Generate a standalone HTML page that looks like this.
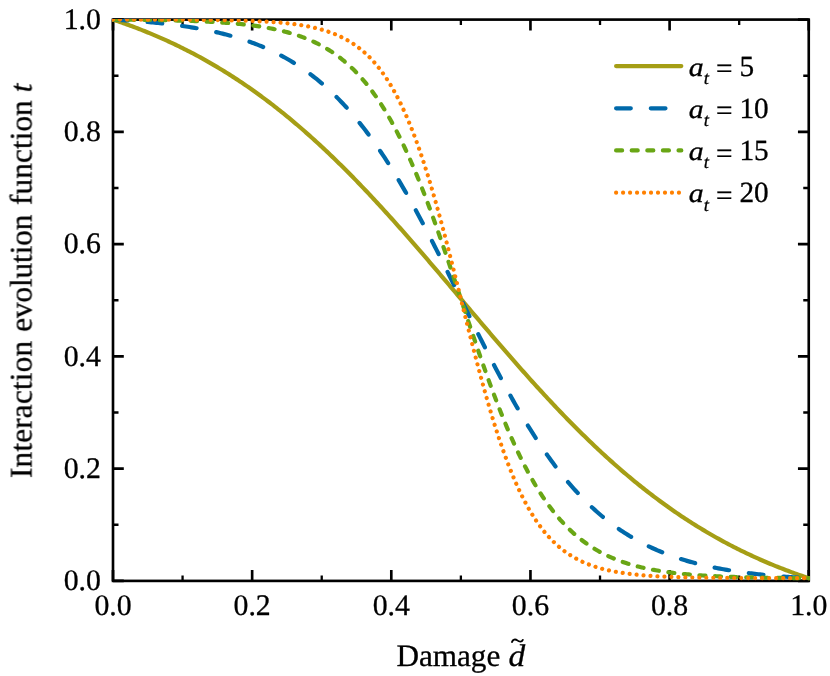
<!DOCTYPE html>
<html><head><meta charset="utf-8"><title>Interaction evolution function</title>
<style>html,body{margin:0;padding:0;background:#fff;}svg{display:block;text-rendering:geometricPrecision;}text{font-family:"Liberation Serif",serif;fill:#000;stroke:#000;stroke-width:0.3px;}</style>
</head><body>
<svg width="830" height="676" viewBox="0 0 830 676">
<rect x="0" y="0" width="830" height="676" fill="#fff"/>
<defs><clipPath id="ax"><rect x="112" y="19" width="698" height="563"/></clipPath></defs>
<g stroke="#000" fill="none" stroke-linecap="butt">
<path stroke-width="2.64" d="M113.00,580.90 v-10.80 M113.00,19.60 v10.80 M113.00,580.90 h10.80 M808.75,580.90 h-10.80"/>
<path stroke-width="2.30" d="M182.57,580.90 v-5.50 M182.57,19.60 v5.50 M113.00,524.77 h5.50 M808.75,524.77 h-5.50"/>
<path stroke-width="2.64" d="M252.15,580.90 v-10.80 M252.15,19.60 v10.80 M113.00,468.64 h10.80 M808.75,468.64 h-10.80"/>
<path stroke-width="2.30" d="M321.73,580.90 v-5.50 M321.73,19.60 v5.50 M113.00,412.51 h5.50 M808.75,412.51 h-5.50"/>
<path stroke-width="2.64" d="M391.30,580.90 v-10.80 M391.30,19.60 v10.80 M113.00,356.38 h10.80 M808.75,356.38 h-10.80"/>
<path stroke-width="2.30" d="M460.88,580.90 v-5.50 M460.88,19.60 v5.50 M113.00,300.25 h5.50 M808.75,300.25 h-5.50"/>
<path stroke-width="2.64" d="M530.45,580.90 v-10.80 M530.45,19.60 v10.80 M113.00,244.12 h10.80 M808.75,244.12 h-10.80"/>
<path stroke-width="2.30" d="M600.02,580.90 v-5.50 M600.02,19.60 v5.50 M113.00,187.99 h5.50 M808.75,187.99 h-5.50"/>
<path stroke-width="2.64" d="M669.60,580.90 v-10.80 M669.60,19.60 v10.80 M113.00,131.86 h10.80 M808.75,131.86 h-10.80"/>
<path stroke-width="2.30" d="M739.18,580.90 v-5.50 M739.18,19.60 v5.50 M113.00,75.73 h5.50 M808.75,75.73 h-5.50"/>
<path stroke-width="2.64" d="M808.75,580.90 v-10.80 M808.75,19.60 v10.80 M113.00,19.60 h10.80 M808.75,19.60 h-10.80"/>
</g>
<rect x="113.00" y="19.60" width="695.75" height="561.30" fill="none" stroke="#000" stroke-width="2.64" stroke-linejoin="miter"/>
<g fill="none" stroke-linecap="round" stroke-linejoin="round" stroke-width="4.20" clip-path="url(#ax)">
<path stroke="#A59E15" d="M113.00,19.60 L114.74,20.18 L116.48,20.77 L118.22,21.36 L119.96,21.96 L121.70,22.56 L123.44,23.17 L125.18,23.79 L126.92,24.42 L128.65,25.05 L130.39,25.69 L132.13,26.33 L133.87,26.98 L135.61,27.64 L137.35,28.30 L139.09,28.97 L140.83,29.65 L142.57,30.34 L144.31,31.03 L146.05,31.73 L147.79,32.44 L149.53,33.15 L151.27,33.87 L153.01,34.60 L154.75,35.33 L156.48,36.08 L158.22,36.83 L159.96,37.58 L161.70,38.35 L163.44,39.12 L165.18,39.90 L166.92,40.69 L168.66,41.49 L170.40,42.29 L172.14,43.10 L173.88,43.92 L175.62,44.75 L177.36,45.59 L179.10,46.43 L180.84,47.28 L182.57,48.14 L184.31,49.01 L186.05,49.89 L187.79,50.77 L189.53,51.67 L191.27,52.57 L193.01,53.48 L194.75,54.40 L196.49,55.32 L198.23,56.26 L199.97,57.21 L201.71,58.16 L203.45,59.12 L205.19,60.09 L206.93,61.07 L208.67,62.06 L210.41,63.06 L212.14,64.06 L213.88,65.08 L215.62,66.10 L217.36,67.14 L219.10,68.18 L220.84,69.23 L222.58,70.29 L224.32,71.36 L226.06,72.44 L227.80,73.53 L229.54,74.63 L231.28,75.74 L233.02,76.86 L234.76,77.98 L236.50,79.12 L238.24,80.26 L239.97,81.42 L241.71,82.58 L243.45,83.76 L245.19,84.94 L246.93,86.14 L248.67,87.34 L250.41,88.55 L252.15,89.78 L253.89,91.01 L255.63,92.25 L257.37,93.50 L259.11,94.76 L260.85,96.04 L262.59,97.32 L264.33,98.61 L266.06,99.91 L267.80,101.22 L269.54,102.54 L271.28,103.87 L273.02,105.21 L274.76,106.57 L276.50,107.93 L278.24,109.30 L279.98,110.68 L281.72,112.07 L283.46,113.47 L285.20,114.88 L286.94,116.30 L288.68,117.73 L290.42,119.17 L292.16,120.62 L293.89,122.08 L295.63,123.55 L297.37,125.02 L299.11,126.51 L300.85,128.01 L302.59,129.52 L304.33,131.04 L306.07,132.57 L307.81,134.10 L309.55,135.65 L311.29,137.21 L313.03,138.77 L314.77,140.35 L316.51,141.93 L318.25,143.53 L319.99,145.13 L321.73,146.75 L323.46,148.37 L325.20,150.00 L326.94,151.64 L328.68,153.30 L330.42,154.96 L332.16,156.62 L333.90,158.30 L335.64,159.99 L337.38,161.69 L339.12,163.39 L340.86,165.10 L342.60,166.83 L344.34,168.56 L346.08,170.30 L347.82,172.05 L349.56,173.80 L351.29,175.57 L353.03,177.34 L354.77,179.12 L356.51,180.91 L358.25,182.71 L359.99,184.51 L361.73,186.33 L363.47,188.15 L365.21,189.98 L366.95,191.81 L368.69,193.66 L370.43,195.51 L372.17,197.37 L373.91,199.23 L375.65,201.11 L377.38,202.99 L379.12,204.87 L380.86,206.77 L382.60,208.67 L384.34,210.57 L386.08,212.49 L387.82,214.41 L389.56,216.33 L391.30,218.26 L393.04,220.20 L394.78,222.14 L396.52,224.09 L398.26,226.05 L400.00,228.01 L401.74,229.97 L403.48,231.94 L405.21,233.92 L406.95,235.90 L408.69,237.88 L410.43,239.87 L412.17,241.86 L413.91,243.86 L415.65,245.86 L417.39,247.87 L419.13,249.88 L420.87,251.90 L422.61,253.91 L424.35,255.93 L426.09,257.96 L427.83,259.99 L429.57,262.02 L431.31,264.05 L433.05,266.09 L434.78,268.13 L436.52,270.17 L438.26,272.21 L440.00,274.25 L441.74,276.30 L443.48,278.35 L445.22,280.40 L446.96,282.45 L448.70,284.51 L450.44,286.56 L452.18,288.62 L453.92,290.67 L455.66,292.73 L457.40,294.79 L459.14,296.85 L460.88,298.90 L462.61,300.96 L464.35,303.02 L466.09,305.08 L467.83,307.13 L469.57,309.19 L471.31,311.24 L473.05,313.30 L474.79,315.35 L476.53,317.40 L478.27,319.45 L480.01,321.50 L481.75,323.55 L483.49,325.60 L485.23,327.64 L486.97,329.68 L488.71,331.72 L490.44,333.76 L492.18,335.79 L493.92,337.82 L495.66,339.85 L497.40,341.87 L499.14,343.89 L500.88,345.91 L502.62,347.92 L504.36,349.93 L506.10,351.94 L507.84,353.94 L509.58,355.94 L511.32,357.94 L513.06,359.93 L514.80,361.91 L516.53,363.89 L518.27,365.87 L520.01,367.84 L521.75,369.80 L523.49,371.76 L525.23,373.71 L526.97,375.66 L528.71,377.61 L530.45,379.54 L532.19,381.48 L533.93,383.40 L535.67,385.32 L537.41,387.23 L539.15,389.14 L540.89,391.04 L542.63,392.93 L544.37,394.82 L546.10,396.70 L547.84,398.57 L549.58,400.44 L551.32,402.30 L553.06,404.15 L554.80,405.99 L556.54,407.83 L558.28,409.66 L560.02,411.48 L561.76,413.29 L563.50,415.10 L565.24,416.89 L566.98,418.68 L568.72,420.47 L570.46,422.24 L572.20,424.00 L573.93,425.76 L575.67,427.51 L577.41,429.25 L579.15,430.98 L580.89,432.70 L582.63,434.41 L584.37,436.12 L586.11,437.82 L587.85,439.50 L589.59,441.18 L591.33,442.85 L593.07,444.51 L594.81,446.16 L596.55,447.80 L598.29,449.43 L600.02,451.06 L601.76,452.67 L603.50,454.28 L605.24,455.87 L606.98,457.46 L608.72,459.03 L610.46,460.60 L612.20,462.16 L613.94,463.70 L615.68,465.24 L617.42,466.77 L619.16,468.29 L620.90,469.79 L622.64,471.29 L624.38,472.78 L626.12,474.26 L627.86,475.73 L629.59,477.19 L631.33,478.64 L633.07,480.08 L634.81,481.51 L636.55,482.93 L638.29,484.34 L640.03,485.74 L641.77,487.13 L643.51,488.51 L645.25,489.88 L646.99,491.24 L648.73,492.59 L650.47,493.93 L652.21,495.26 L653.95,496.58 L655.69,497.89 L657.42,499.20 L659.16,500.49 L660.90,501.77 L662.64,503.04 L664.38,504.30 L666.12,505.55 L667.86,506.80 L669.60,508.03 L671.34,509.25 L673.08,510.47 L674.82,511.67 L676.56,512.86 L678.30,514.05 L680.04,515.22 L681.78,516.39 L683.51,517.54 L685.25,518.69 L686.99,519.82 L688.73,520.95 L690.47,522.07 L692.21,523.17 L693.95,524.27 L695.69,525.36 L697.43,526.44 L699.17,527.51 L700.91,528.57 L702.65,529.63 L704.39,530.67 L706.13,531.70 L707.87,532.73 L709.61,533.74 L711.35,534.75 L713.08,535.75 L714.82,536.73 L716.56,537.71 L718.30,538.69 L720.04,539.65 L721.78,540.60 L723.52,541.55 L725.26,542.48 L727.00,543.41 L728.74,544.33 L730.48,545.24 L732.22,546.14 L733.96,547.03 L735.70,547.92 L737.44,548.79 L739.18,549.66 L740.91,550.52 L742.65,551.37 L744.39,552.22 L746.13,553.05 L747.87,553.88 L749.61,554.70 L751.35,555.51 L753.09,556.32 L754.83,557.11 L756.57,557.90 L758.31,558.68 L760.05,559.46 L761.79,560.22 L763.53,560.98 L765.27,561.73 L767.00,562.47 L768.74,563.21 L770.48,563.94 L772.22,564.66 L773.96,565.37 L775.70,566.08 L777.44,566.78 L779.18,567.47 L780.92,568.15 L782.66,568.83 L784.40,569.50 L786.14,570.17 L787.88,570.83 L789.62,571.48 L791.36,572.12 L793.10,572.76 L794.84,573.39 L796.57,574.01 L798.31,574.63 L800.05,575.24 L801.79,575.85 L803.53,576.45 L805.27,577.04 L807.01,577.63 L808.75,578.21"/>
<path stroke="#0069AA" stroke-dasharray="14.7 19.98" d="M113.00,19.60 L114.74,19.70 L116.48,19.79 L118.22,19.89 L119.96,20.00 L121.70,20.10 L123.44,20.21 L125.18,20.32 L126.92,20.43 L128.65,20.55 L130.39,20.67 L132.13,20.79 L133.87,20.91 L135.61,21.04 L137.35,21.17 L139.09,21.31 L140.83,21.45 L142.57,21.59 L144.31,21.73 L146.05,21.88 L147.79,22.03 L149.53,22.19 L151.27,22.35 L153.01,22.51 L154.75,22.68 L156.48,22.85 L158.22,23.03 L159.96,23.21 L161.70,23.39 L163.44,23.58 L165.18,23.77 L166.92,23.97 L168.66,24.18 L170.40,24.38 L172.14,24.60 L173.88,24.82 L175.62,25.04 L177.36,25.27 L179.10,25.51 L180.84,25.75 L182.57,25.99 L184.31,26.25 L186.05,26.51 L187.79,26.77 L189.53,27.04 L191.27,27.32 L193.01,27.61 L194.75,27.90 L196.49,28.20 L198.23,28.51 L199.97,28.82 L201.71,29.14 L203.45,29.47 L205.19,29.81 L206.93,30.15 L208.67,30.51 L210.41,30.87 L212.14,31.24 L213.88,31.62 L215.62,32.01 L217.36,32.41 L219.10,32.81 L220.84,33.23 L222.58,33.66 L224.32,34.10 L226.06,34.54 L227.80,35.00 L229.54,35.47 L231.28,35.95 L233.02,36.44 L234.76,36.94 L236.50,37.46 L238.24,37.99 L239.97,38.52 L241.71,39.08 L243.45,39.64 L245.19,40.22 L246.93,40.81 L248.67,41.41 L250.41,42.03 L252.15,42.66 L253.89,43.31 L255.63,43.97 L257.37,44.65 L259.11,45.34 L260.85,46.05 L262.59,46.77 L264.33,47.51 L266.06,48.27 L267.80,49.04 L269.54,49.83 L271.28,50.64 L273.02,51.47 L274.76,52.31 L276.50,53.17 L278.24,54.05 L279.98,54.96 L281.72,55.88 L283.46,56.82 L285.20,57.78 L286.94,58.76 L288.68,59.76 L290.42,60.79 L292.16,61.83 L293.89,62.90 L295.63,63.99 L297.37,65.11 L299.11,66.24 L300.85,67.40 L302.59,68.59 L304.33,69.80 L306.07,71.03 L307.81,72.29 L309.55,73.57 L311.29,74.88 L313.03,76.22 L314.77,77.58 L316.51,78.97 L318.25,80.39 L319.99,81.83 L321.73,83.30 L323.46,84.80 L325.20,86.33 L326.94,87.89 L328.68,89.48 L330.42,91.09 L332.16,92.74 L333.90,94.42 L335.64,96.12 L337.38,97.86 L339.12,99.63 L340.86,101.43 L342.60,103.27 L344.34,105.13 L346.08,107.03 L347.82,108.96 L349.56,110.92 L351.29,112.91 L353.03,114.94 L354.77,117.00 L356.51,119.10 L358.25,121.23 L359.99,123.39 L361.73,125.58 L363.47,127.81 L365.21,130.07 L366.95,132.37 L368.69,134.70 L370.43,137.07 L372.17,139.47 L373.91,141.90 L375.65,144.37 L377.38,146.87 L379.12,149.40 L380.86,151.97 L382.60,154.57 L384.34,157.21 L386.08,159.88 L387.82,162.58 L389.56,165.31 L391.30,168.08 L393.04,170.88 L394.78,173.71 L396.52,176.57 L398.26,179.47 L400.00,182.39 L401.74,185.34 L403.48,188.33 L405.21,191.34 L406.95,194.38 L408.69,197.45 L410.43,200.55 L412.17,203.68 L413.91,206.83 L415.65,210.01 L417.39,213.21 L419.13,216.43 L420.87,219.68 L422.61,222.96 L424.35,226.25 L426.09,229.57 L427.83,232.90 L429.57,236.26 L431.31,239.64 L433.05,243.03 L434.78,246.44 L436.52,249.86 L438.26,253.30 L440.00,256.75 L441.74,260.22 L443.48,263.70 L445.22,267.19 L446.96,270.69 L448.70,274.20 L450.44,277.71 L452.18,281.23 L453.92,284.76 L455.66,288.29 L457.40,291.83 L459.14,295.36 L460.88,298.90 L462.61,302.44 L464.35,305.98 L466.09,309.51 L467.83,313.05 L469.57,316.57 L471.31,320.10 L473.05,323.61 L474.79,327.12 L476.53,330.62 L478.27,334.11 L480.01,337.58 L481.75,341.05 L483.49,344.50 L485.23,347.94 L486.97,351.37 L488.71,354.78 L490.44,358.17 L492.18,361.55 L493.92,364.90 L495.66,368.24 L497.40,371.55 L499.14,374.85 L500.88,378.12 L502.62,381.37 L504.36,384.60 L506.10,387.80 L507.84,390.98 L509.58,394.13 L511.32,397.25 L513.06,400.35 L514.80,403.42 L516.53,406.46 L518.27,409.48 L520.01,412.46 L521.75,415.42 L523.49,418.34 L525.23,421.23 L526.97,424.09 L528.71,426.93 L530.45,429.72 L532.19,432.49 L533.93,435.23 L535.67,437.93 L537.41,440.60 L539.15,443.23 L540.89,445.83 L542.63,448.40 L544.37,450.94 L546.10,453.44 L547.84,455.91 L549.58,458.34 L551.32,460.74 L553.06,463.10 L554.80,465.43 L556.54,467.73 L558.28,469.99 L560.02,472.22 L561.76,474.42 L563.50,476.58 L565.24,478.71 L566.98,480.80 L568.72,482.86 L570.46,484.89 L572.20,486.89 L573.93,488.85 L575.67,490.78 L577.41,492.67 L579.15,494.54 L580.89,496.37 L582.63,498.17 L584.37,499.94 L586.11,501.68 L587.85,503.39 L589.59,505.07 L591.33,506.71 L593.07,508.33 L594.81,509.92 L596.55,511.47 L598.29,513.00 L600.02,514.50 L601.76,515.98 L603.50,517.42 L605.24,518.84 L606.98,520.23 L608.72,521.59 L610.46,522.92 L612.20,524.23 L613.94,525.52 L615.68,526.78 L617.42,528.01 L619.16,529.22 L620.90,530.40 L622.64,531.56 L624.38,532.70 L626.12,533.81 L627.86,534.90 L629.59,535.97 L631.33,537.02 L633.07,538.04 L634.81,539.05 L636.55,540.03 L638.29,540.99 L640.03,541.93 L641.77,542.85 L643.51,543.75 L645.25,544.63 L646.99,545.50 L648.73,546.34 L650.47,547.17 L652.21,547.98 L653.95,548.77 L655.69,549.54 L657.42,550.30 L659.16,551.04 L660.90,551.76 L662.64,552.47 L664.38,553.16 L666.12,553.84 L667.86,554.50 L669.60,555.14 L671.34,555.78 L673.08,556.39 L674.82,557.00 L676.56,557.59 L678.30,558.17 L680.04,558.73 L681.78,559.28 L683.51,559.82 L685.25,560.35 L686.99,560.86 L688.73,561.36 L690.47,561.86 L692.21,562.34 L693.95,562.80 L695.69,563.26 L697.43,563.71 L699.17,564.15 L700.91,564.57 L702.65,564.99 L704.39,565.40 L706.13,565.80 L707.87,566.19 L709.61,566.57 L711.35,566.94 L713.08,567.30 L714.82,567.65 L716.56,568.00 L718.30,568.33 L720.04,568.66 L721.78,568.99 L723.52,569.30 L725.26,569.61 L727.00,569.91 L728.74,570.20 L730.48,570.48 L732.22,570.76 L733.96,571.03 L735.70,571.30 L737.44,571.56 L739.18,571.81 L740.91,572.06 L742.65,572.30 L744.39,572.54 L746.13,572.76 L747.87,572.99 L749.61,573.21 L751.35,573.42 L753.09,573.63 L754.83,573.83 L756.57,574.03 L758.31,574.23 L760.05,574.42 L761.79,574.60 L763.53,574.78 L765.27,574.96 L767.00,575.13 L768.74,575.30 L770.48,575.46 L772.22,575.62 L773.96,575.77 L775.70,575.93 L777.44,576.07 L779.18,576.22 L780.92,576.36 L782.66,576.50 L784.40,576.63 L786.14,576.76 L787.88,576.89 L789.62,577.02 L791.36,577.14 L793.10,577.26 L794.84,577.37 L796.57,577.49 L798.31,577.60 L800.05,577.71 L801.79,577.81 L803.53,577.91 L805.27,578.01 L807.01,578.11 L808.75,578.21"/>
<path stroke="#69A615" stroke-dasharray="6.0 9.61" d="M113.00,19.60 L114.74,19.61 L116.48,19.62 L118.22,19.64 L119.96,19.65 L121.70,19.66 L123.44,19.68 L125.18,19.69 L126.92,19.71 L128.65,19.72 L130.39,19.74 L132.13,19.76 L133.87,19.78 L135.61,19.79 L137.35,19.81 L139.09,19.83 L140.83,19.85 L142.57,19.88 L144.31,19.90 L146.05,19.92 L147.79,19.94 L149.53,19.97 L151.27,20.00 L153.01,20.02 L154.75,20.05 L156.48,20.08 L158.22,20.11 L159.96,20.14 L161.70,20.17 L163.44,20.21 L165.18,20.24 L166.92,20.28 L168.66,20.32 L170.40,20.35 L172.14,20.40 L173.88,20.44 L175.62,20.48 L177.36,20.53 L179.10,20.57 L180.84,20.62 L182.57,20.67 L184.31,20.73 L186.05,20.78 L187.79,20.84 L189.53,20.90 L191.27,20.96 L193.01,21.02 L194.75,21.09 L196.49,21.16 L198.23,21.23 L199.97,21.30 L201.71,21.38 L203.45,21.46 L205.19,21.54 L206.93,21.62 L208.67,21.71 L210.41,21.81 L212.14,21.90 L213.88,22.00 L215.62,22.10 L217.36,22.21 L219.10,22.32 L220.84,22.44 L222.58,22.56 L224.32,22.68 L226.06,22.81 L227.80,22.94 L229.54,23.08 L231.28,23.22 L233.02,23.37 L234.76,23.53 L236.50,23.69 L238.24,23.86 L239.97,24.03 L241.71,24.21 L243.45,24.39 L245.19,24.59 L246.93,24.79 L248.67,25.00 L250.41,25.21 L252.15,25.44 L253.89,25.67 L255.63,25.91 L257.37,26.16 L259.11,26.42 L260.85,26.69 L262.59,26.96 L264.33,27.25 L266.06,27.55 L267.80,27.86 L269.54,28.19 L271.28,28.52 L273.02,28.87 L274.76,29.23 L276.50,29.60 L278.24,29.99 L279.98,30.39 L281.72,30.80 L283.46,31.23 L285.20,31.68 L286.94,32.14 L288.68,32.62 L290.42,33.12 L292.16,33.63 L293.89,34.16 L295.63,34.72 L297.37,35.29 L299.11,35.88 L300.85,36.50 L302.59,37.13 L304.33,37.79 L306.07,38.48 L307.81,39.18 L309.55,39.92 L311.29,40.67 L313.03,41.46 L314.77,42.27 L316.51,43.11 L318.25,43.98 L319.99,44.88 L321.73,45.81 L323.46,46.78 L325.20,47.77 L326.94,48.80 L328.68,49.87 L330.42,50.97 L332.16,52.11 L333.90,53.29 L335.64,54.51 L337.38,55.76 L339.12,57.06 L340.86,58.41 L342.60,59.79 L344.34,61.23 L346.08,62.70 L347.82,64.23 L349.56,65.80 L351.29,67.43 L353.03,69.10 L354.77,70.83 L356.51,72.61 L358.25,74.45 L359.99,76.34 L361.73,78.29 L363.47,80.30 L365.21,82.37 L366.95,84.50 L368.69,86.69 L370.43,88.94 L372.17,91.26 L373.91,93.65 L375.65,96.10 L377.38,98.62 L379.12,101.20 L380.86,103.86 L382.60,106.59 L384.34,109.39 L386.08,112.26 L387.82,115.20 L389.56,118.22 L391.30,121.31 L393.04,124.47 L394.78,127.71 L396.52,131.03 L398.26,134.42 L400.00,137.88 L401.74,141.43 L403.48,145.04 L405.21,148.74 L406.95,152.51 L408.69,156.35 L410.43,160.27 L412.17,164.26 L413.91,168.32 L415.65,172.45 L417.39,176.66 L419.13,180.93 L420.87,185.28 L422.61,189.69 L424.35,194.16 L426.09,198.70 L427.83,203.30 L429.57,207.96 L431.31,212.68 L433.05,217.45 L434.78,222.27 L436.52,227.15 L438.26,232.07 L440.00,237.03 L441.74,242.04 L443.48,247.08 L445.22,252.16 L446.96,257.27 L448.70,262.41 L450.44,267.58 L452.18,272.77 L453.92,277.97 L455.66,283.19 L457.40,288.42 L459.14,293.66 L460.88,298.90 L462.61,304.14 L464.35,309.38 L466.09,314.61 L467.83,319.83 L469.57,325.04 L471.31,330.23 L473.05,335.39 L474.79,340.53 L476.53,345.64 L478.27,350.72 L480.01,355.77 L481.75,360.77 L483.49,365.74 L485.23,370.66 L486.97,375.53 L488.71,380.36 L490.44,385.13 L492.18,389.84 L493.92,394.50 L495.66,399.10 L497.40,403.64 L499.14,408.12 L500.88,412.53 L502.62,416.87 L504.36,421.15 L506.10,425.35 L507.84,429.49 L509.58,433.55 L511.32,437.54 L513.06,441.46 L514.80,445.30 L516.53,449.07 L518.27,452.76 L520.01,456.38 L521.75,459.92 L523.49,463.39 L525.23,466.78 L526.97,470.09 L528.71,473.33 L530.45,476.50 L532.19,479.59 L533.93,482.61 L535.67,485.55 L537.41,488.42 L539.15,491.22 L540.89,493.94 L542.63,496.60 L544.37,499.19 L546.10,501.71 L547.84,504.16 L549.58,506.54 L551.32,508.86 L553.06,511.12 L554.80,513.31 L556.54,515.44 L558.28,517.51 L560.02,519.51 L561.76,521.46 L563.50,523.36 L565.24,525.19 L566.98,526.97 L568.72,528.70 L570.46,530.38 L572.20,532.00 L573.93,533.58 L575.67,535.10 L577.41,536.58 L579.15,538.01 L580.89,539.40 L582.63,540.74 L584.37,542.04 L586.11,543.30 L587.85,544.52 L589.59,545.69 L591.33,546.83 L593.07,547.94 L594.81,549.00 L596.55,550.03 L598.29,551.03 L600.02,551.99 L601.76,552.92 L603.50,553.82 L605.24,554.69 L606.98,555.54 L608.72,556.35 L610.46,557.13 L612.20,557.89 L613.94,558.62 L615.68,559.33 L617.42,560.01 L619.16,560.67 L620.90,561.31 L622.64,561.92 L624.38,562.52 L626.12,563.09 L627.86,563.64 L629.59,564.17 L631.33,564.69 L633.07,565.19 L634.81,565.67 L636.55,566.13 L638.29,566.57 L640.03,567.00 L641.77,567.42 L643.51,567.82 L645.25,568.21 L646.99,568.58 L648.73,568.94 L650.47,569.29 L652.21,569.62 L653.95,569.94 L655.69,570.25 L657.42,570.55 L659.16,570.84 L660.90,571.12 L662.64,571.39 L664.38,571.65 L666.12,571.90 L667.86,572.14 L669.60,572.37 L671.34,572.59 L673.08,572.81 L674.82,573.02 L676.56,573.22 L678.30,573.41 L680.04,573.60 L681.78,573.78 L683.51,573.95 L685.25,574.12 L686.99,574.28 L688.73,574.43 L690.47,574.58 L692.21,574.73 L693.95,574.86 L695.69,575.00 L697.43,575.13 L699.17,575.25 L700.91,575.37 L702.65,575.48 L704.39,575.60 L706.13,575.70 L707.87,575.81 L709.61,575.90 L711.35,576.00 L713.08,576.09 L714.82,576.18 L716.56,576.27 L718.30,576.35 L720.04,576.43 L721.78,576.51 L723.52,576.58 L725.26,576.65 L727.00,576.72 L728.74,576.78 L730.48,576.85 L732.22,576.91 L733.96,576.97 L735.70,577.02 L737.44,577.08 L739.18,577.13 L740.91,577.18 L742.65,577.23 L744.39,577.28 L746.13,577.32 L747.87,577.37 L749.61,577.41 L751.35,577.45 L753.09,577.49 L754.83,577.53 L756.57,577.56 L758.31,577.60 L760.05,577.63 L761.79,577.66 L763.53,577.70 L765.27,577.73 L767.00,577.76 L768.74,577.78 L770.48,577.81 L772.22,577.84 L773.96,577.86 L775.70,577.88 L777.44,577.91 L779.18,577.93 L780.92,577.95 L782.66,577.97 L784.40,577.99 L786.14,578.01 L787.88,578.03 L789.62,578.05 L791.36,578.07 L793.10,578.08 L794.84,578.10 L796.57,578.11 L798.31,578.13 L800.05,578.14 L801.79,578.16 L803.53,578.17 L805.27,578.18 L807.01,578.19 L808.75,578.21"/>
<path stroke="#FF8000" stroke-dasharray="0.01 6.973" d="M113.00,19.60 L114.74,19.60 L116.48,19.60 L118.22,19.60 L119.96,19.61 L121.70,19.61 L123.44,19.61 L125.18,19.61 L126.92,19.61 L128.65,19.61 L130.39,19.62 L132.13,19.62 L133.87,19.62 L135.61,19.62 L137.35,19.63 L139.09,19.63 L140.83,19.63 L142.57,19.63 L144.31,19.64 L146.05,19.64 L147.79,19.64 L149.53,19.65 L151.27,19.65 L153.01,19.65 L154.75,19.66 L156.48,19.66 L158.22,19.67 L159.96,19.67 L161.70,19.68 L163.44,19.68 L165.18,19.69 L166.92,19.69 L168.66,19.70 L170.40,19.71 L172.14,19.71 L173.88,19.72 L175.62,19.73 L177.36,19.74 L179.10,19.74 L180.84,19.75 L182.57,19.76 L184.31,19.77 L186.05,19.78 L187.79,19.79 L189.53,19.80 L191.27,19.82 L193.01,19.83 L194.75,19.84 L196.49,19.85 L198.23,19.87 L199.97,19.88 L201.71,19.90 L203.45,19.92 L205.19,19.93 L206.93,19.95 L208.67,19.97 L210.41,19.99 L212.14,20.01 L213.88,20.04 L215.62,20.06 L217.36,20.08 L219.10,20.11 L220.84,20.14 L222.58,20.17 L224.32,20.20 L226.06,20.23 L227.80,20.26 L229.54,20.30 L231.28,20.33 L233.02,20.37 L234.76,20.41 L236.50,20.46 L238.24,20.50 L239.97,20.55 L241.71,20.60 L243.45,20.65 L245.19,20.71 L246.93,20.76 L248.67,20.82 L250.41,20.89 L252.15,20.96 L253.89,21.03 L255.63,21.10 L257.37,21.18 L259.11,21.26 L260.85,21.35 L262.59,21.44 L264.33,21.53 L266.06,21.63 L267.80,21.74 L269.54,21.85 L271.28,21.96 L273.02,22.09 L274.76,22.21 L276.50,22.35 L278.24,22.49 L279.98,22.64 L281.72,22.80 L283.46,22.96 L285.20,23.13 L286.94,23.31 L288.68,23.50 L290.42,23.70 L292.16,23.91 L293.89,24.13 L295.63,24.37 L297.37,24.61 L299.11,24.87 L300.85,25.13 L302.59,25.42 L304.33,25.71 L306.07,26.02 L307.81,26.35 L309.55,26.69 L311.29,27.05 L313.03,27.43 L314.77,27.83 L316.51,28.24 L318.25,28.68 L319.99,29.14 L321.73,29.62 L323.46,30.13 L325.20,30.66 L326.94,31.21 L328.68,31.80 L330.42,32.41 L332.16,33.05 L333.90,33.73 L335.64,34.43 L337.38,35.17 L339.12,35.95 L340.86,36.76 L342.60,37.62 L344.34,38.51 L346.08,39.45 L347.82,40.43 L349.56,41.45 L351.29,42.53 L353.03,43.66 L354.77,44.84 L356.51,46.07 L358.25,47.36 L359.99,48.71 L361.73,50.12 L363.47,51.60 L365.21,53.14 L366.95,54.76 L368.69,56.44 L370.43,58.20 L372.17,60.04 L373.91,61.95 L375.65,63.95 L377.38,66.04 L379.12,68.21 L380.86,70.48 L382.60,72.84 L384.34,75.30 L386.08,77.86 L387.82,80.52 L389.56,83.29 L391.30,86.17 L393.04,89.16 L394.78,92.26 L396.52,95.48 L398.26,98.82 L400.00,102.28 L401.74,105.87 L403.48,109.58 L405.21,113.42 L406.95,117.39 L408.69,121.49 L410.43,125.72 L412.17,130.09 L413.91,134.59 L415.65,139.22 L417.39,143.99 L419.13,148.89 L420.87,153.93 L422.61,159.09 L424.35,164.39 L426.09,169.82 L427.83,175.38 L429.57,181.05 L431.31,186.85 L433.05,192.77 L434.78,198.80 L436.52,204.94 L438.26,211.19 L440.00,217.53 L441.74,223.97 L443.48,230.49 L445.22,237.09 L446.96,243.77 L448.70,250.51 L450.44,257.32 L452.18,264.17 L453.92,271.06 L455.66,277.99 L457.40,284.95 L459.14,291.92 L460.88,298.90 L462.61,305.88 L464.35,312.86 L466.09,319.81 L467.83,326.74 L469.57,333.64 L471.31,340.49 L473.05,347.29 L474.79,354.04 L476.53,360.71 L478.27,367.32 L480.01,373.84 L481.75,380.27 L483.49,386.62 L485.23,392.86 L486.97,399.00 L488.71,405.03 L490.44,410.95 L492.18,416.75 L493.92,422.43 L495.66,427.99 L497.40,433.41 L499.14,438.71 L500.88,443.88 L502.62,448.92 L504.36,453.82 L506.10,458.59 L507.84,463.22 L509.58,467.72 L511.32,472.09 L513.06,476.32 L514.80,480.42 L516.53,484.39 L518.27,488.23 L520.01,491.94 L521.75,495.52 L523.49,498.99 L525.23,502.32 L526.97,505.55 L528.71,508.65 L530.45,511.64 L532.19,514.52 L533.93,517.28 L535.67,519.95 L537.41,522.50 L539.15,524.96 L540.89,527.32 L542.63,529.59 L544.37,531.77 L546.10,533.85 L547.84,535.85 L549.58,537.77 L551.32,539.61 L553.06,541.37 L554.80,543.05 L556.54,544.66 L558.28,546.21 L560.02,547.68 L561.76,549.10 L563.50,550.45 L565.24,551.74 L566.98,552.97 L568.72,554.15 L570.46,555.28 L572.20,556.35 L573.93,557.38 L575.67,558.36 L577.41,559.30 L579.15,560.19 L580.89,561.04 L582.63,561.86 L584.37,562.63 L586.11,563.37 L587.85,564.08 L589.59,564.75 L591.33,565.39 L593.07,566.01 L594.81,566.59 L596.55,567.15 L598.29,567.68 L600.02,568.18 L601.76,568.66 L603.50,569.12 L605.24,569.56 L606.98,569.98 L608.72,570.37 L610.46,570.75 L612.20,571.11 L613.94,571.46 L615.68,571.78 L617.42,572.09 L619.16,572.39 L620.90,572.67 L622.64,572.94 L624.38,573.20 L626.12,573.44 L627.86,573.67 L629.59,573.89 L631.33,574.10 L633.07,574.30 L634.81,574.49 L636.55,574.67 L638.29,574.85 L640.03,575.01 L641.77,575.17 L643.51,575.31 L645.25,575.46 L646.99,575.59 L648.73,575.72 L650.47,575.84 L652.21,575.96 L653.95,576.07 L655.69,576.17 L657.42,576.27 L659.16,576.37 L660.90,576.46 L662.64,576.54 L664.38,576.63 L666.12,576.70 L667.86,576.78 L669.60,576.85 L671.34,576.92 L673.08,576.98 L674.82,577.04 L676.56,577.10 L678.30,577.15 L680.04,577.21 L681.78,577.26 L683.51,577.30 L685.25,577.35 L686.99,577.39 L688.73,577.43 L690.47,577.47 L692.21,577.51 L693.95,577.54 L695.69,577.58 L697.43,577.61 L699.17,577.64 L700.91,577.67 L702.65,577.70 L704.39,577.72 L706.13,577.75 L707.87,577.77 L709.61,577.79 L711.35,577.81 L713.08,577.83 L714.82,577.85 L716.56,577.87 L718.30,577.89 L720.04,577.91 L721.78,577.92 L723.52,577.94 L725.26,577.95 L727.00,577.97 L728.74,577.98 L730.48,577.99 L732.22,578.00 L733.96,578.01 L735.70,578.02 L737.44,578.03 L739.18,578.04 L740.91,578.05 L742.65,578.06 L744.39,578.07 L746.13,578.08 L747.87,578.09 L749.61,578.09 L751.35,578.10 L753.09,578.11 L754.83,578.11 L756.57,578.12 L758.31,578.12 L760.05,578.13 L761.79,578.13 L763.53,578.14 L765.27,578.14 L767.00,578.15 L768.74,578.15 L770.48,578.15 L772.22,578.16 L773.96,578.16 L775.70,578.17 L777.44,578.17 L779.18,578.17 L780.92,578.17 L782.66,578.18 L784.40,578.18 L786.14,578.18 L787.88,578.18 L789.62,578.19 L791.36,578.19 L793.10,578.19 L794.84,578.19 L796.57,578.20 L798.31,578.20 L800.05,578.20 L801.79,578.20 L803.53,578.20 L805.27,578.20 L807.01,578.20 L808.75,578.21"/>
</g>
<g style="will-change:transform">
<g font-size="29.80">
<text x="113.00" y="615.4" text-anchor="middle">0.0</text>
<text x="252.15" y="615.4" text-anchor="middle">0.2</text>
<text x="391.30" y="615.4" text-anchor="middle">0.4</text>
<text x="530.45" y="615.4" text-anchor="middle">0.6</text>
<text x="669.60" y="615.4" text-anchor="middle">0.8</text>
<text x="808.75" y="615.4" text-anchor="middle">1.0</text>
<text x="100.9" y="590.10" text-anchor="end">0.0</text>
<text x="100.9" y="477.84" text-anchor="end">0.2</text>
<text x="100.9" y="365.58" text-anchor="end">0.4</text>
<text x="100.9" y="253.32" text-anchor="end">0.6</text>
<text x="100.9" y="141.06" text-anchor="end">0.8</text>
<text x="100.9" y="28.80" text-anchor="end">1.0</text>
</g>
<text font-size="31.20" x="396.4" y="666.3">Damage</text>
<text font-size="31.20" font-style="italic" transform="translate(508.6,666.1) scale(1.07,1)">d</text>
<path d="M512.0,642.1 C512.7,639.3 515.3,638.7 517.3,640.4 C519.3,642.1 521.7,642.2 522.8,639.9" fill="none" stroke="#000" stroke-width="1.9" stroke-linecap="round"/>
<g transform="translate(31.5,478.1) rotate(-90)" font-size="31.40">
<text x="0.00" y="0" letter-spacing="0.12">Interaction</text>
<text x="146.20" y="0" letter-spacing="-0.17">evolution</text>
<text x="273.00" y="0" letter-spacing="0.03">function</text>
<text x="385.80" y="0" letter-spacing="0.00" font-style="italic">t</text>
</g>
<path d="M616.10,66.05 H681.30" fill="none" stroke="#A59E15" stroke-width="4.20" stroke-linecap="round"/>
<text font-size="26.6" font-style="italic" transform="translate(688.7,75.55) scale(1.12,1)">a</text>
<text font-size="18.6" font-style="italic" stroke-width="0.15" x="703.7" y="83.95">t</text>
<text font-size="29.30" stroke-width="0.8" x="715.9" y="78.15">=</text>
<text font-size="29.30" x="739.4" y="75.55">5</text>
<path d="M616.10,108.35 H681.30" fill="none" stroke="#0069AA" stroke-width="4.20" stroke-linecap="round" stroke-dasharray="14.7 19.98"/>
<text font-size="26.6" font-style="italic" transform="translate(688.7,117.85) scale(1.12,1)">a</text>
<text font-size="18.6" font-style="italic" stroke-width="0.15" x="703.7" y="126.25">t</text>
<text font-size="29.30" stroke-width="0.8" x="715.9" y="120.45">=</text>
<text font-size="29.30" x="739.4" y="117.85">10</text>
<path d="M616.10,150.40 H681.30" fill="none" stroke="#69A615" stroke-width="4.20" stroke-linecap="round" stroke-dasharray="6.0 9.61"/>
<text font-size="26.6" font-style="italic" transform="translate(688.7,159.90) scale(1.12,1)">a</text>
<text font-size="18.6" font-style="italic" stroke-width="0.15" x="703.7" y="168.30">t</text>
<text font-size="29.30" stroke-width="0.8" x="715.9" y="162.50">=</text>
<text font-size="29.30" x="739.4" y="159.90">15</text>
<path d="M616.10,192.65 H681.30" fill="none" stroke="#FF8000" stroke-width="4.20" stroke-linecap="round" stroke-dasharray="0.01 6.973"/>
<text font-size="26.6" font-style="italic" transform="translate(688.7,202.15) scale(1.12,1)">a</text>
<text font-size="18.6" font-style="italic" stroke-width="0.15" x="703.7" y="210.55">t</text>
<text font-size="29.30" stroke-width="0.8" x="715.9" y="204.75">=</text>
<text font-size="29.30" x="739.4" y="202.15">20</text>
</g>
</svg>
</body></html>
